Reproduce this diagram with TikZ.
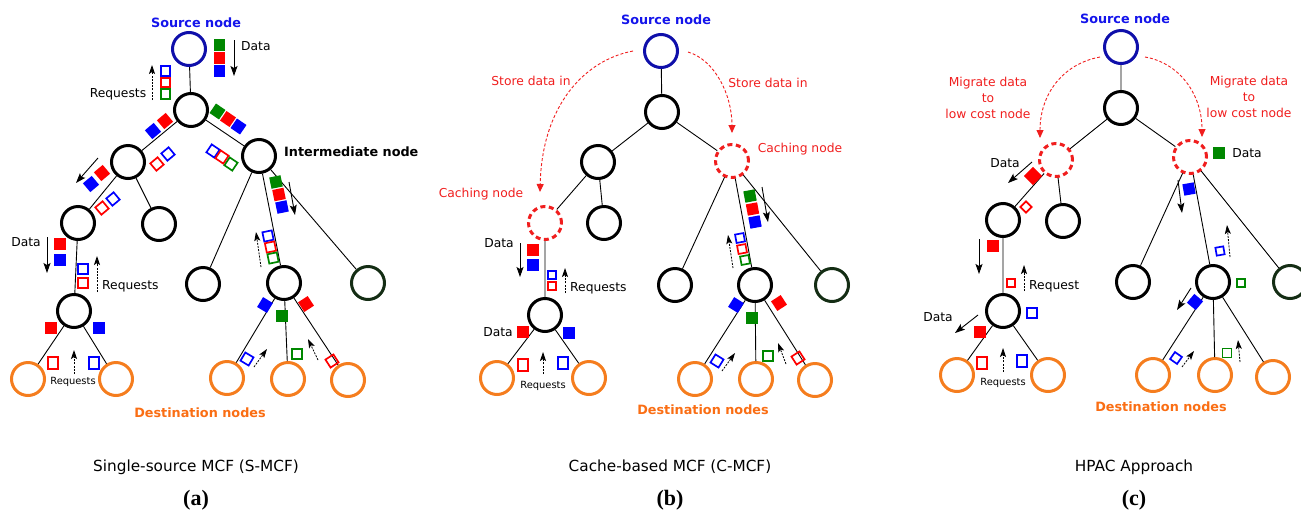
\documentclass[tikz,border=0pt]{standalone}
\usepackage{fontspec}
\setmainfont{DejaVu Sans}
\newfontfamily\capserif{Liberation Serif}
\usetikzlibrary{arrows.meta}
\definecolor{sblue}{RGB}{15,15,170}
\definecolor{tblue}{RGB}{20,20,235}
\definecolor{qgreen}{RGB}{0,135,0}
\definecolor{qred}{RGB}{255,0,0}
\definecolor{qblue}{RGB}{0,0,255}
\definecolor{dorange}{RGB}{245,125,30}
\definecolor{torange}{RGB}{250,110,20}
\definecolor{dkgreen}{RGB}{20,45,20}
\definecolor{cred}{RGB}{240,30,30}
\newcommand\conn[6]{\coordinate (#1s) at (#3,#4); \coordinate (#1e) at (#5,#6); \draw[#2] (#1s) -- (#1e);}
\begin{document}
\begin{tikzpicture}[x=1pt,y=-1pt,
  nd/.style={circle, draw=black, line width=3pt, minimum size=33pt, inner sep=0pt},
  src/.style={nd, draw=sblue},
  dst/.style={nd, draw=dorange},
  dg/.style={nd, draw=dkgreen},
  cache/.style={nd, draw=cred, dash pattern=on 5pt off 3.5pt},
  lnk/.style={line width=0.9pt, black},
  fsq/.style={rectangle, minimum size=11.5pt, inner sep=0pt, fill=#1, draw=none},
  osq/.style={rectangle, minimum size=9.5pt, inner sep=0pt, draw=#1, line width=1.7pt},
  darr/.style={-{Stealth[length=10pt,width=7pt,inset=2pt]}, line width=0.9pt},
  rarr/.style={-{Stealth[length=9pt,width=6pt,inset=2pt]}, line width=0.8pt, dash pattern=on 2pt off 1.2pt},
  carr/.style={-{Triangle[length=8pt,width=7pt]}, cred, line width=0.9pt, dash pattern=on 3pt off 2pt},
  txt/.style={inner sep=0pt, font=\fontsize{12.3}{16}\selectfont},
  rtxt/.style={txt, text=cred, align=center},
  stxt/.style={inner sep=0pt, font=\fontsize{9.9}{12}\selectfont},
  btxt/.style={inner sep=0pt, font=\fontsize{12.8}{15}\selectfont\bfseries},
  captxt/.style={inner sep=0pt, font=\fontsize{15.3}{18}\selectfont},
  labtxt/.style={inner sep=0pt, font=\fontsize{22}{24}\capserif\bfseries}
]
\useasboundingbox (0,0) rectangle (1301,515);

%%%%%%%%%%%%%%%%%%%% Panel (a)
\node[src] (aS) at (189,49) {};
\node[nd] (a1) at (191,110) {};
\node[nd] (a2) at (128,162) {};
\node[nd] (a3) at (259,156) {};
\node[nd] (a4) at (78,223) {};
\node[nd] (a5) at (159,224) {};
\node[nd] (a6) at (74,311) {};
\node[dst] (ad1) at (28,379) {};
\node[dst] (ad2) at (116,379) {};
\node[nd] (a7) at (203,284) {};
\node[nd] (a8) at (284,283) {};
\node[dg] (a9) at (368,283) {};
\node[dst] (ad3) at (227,378) {};
\node[dst] (ad4) at (288,379) {};
\node[dst] (ad5) at (348,380) {};
\draw[lnk] (aS)--(a1) (a1)--(a2) (a1)--(a3) (a2)--(a4) (a2)--(a5) (a4)--(a6)
  (a6)--(ad1) (a6)--(ad2) (a3)--(a7) (a3)--(a8) (a3)--(a9) (a8)--(ad3) (a8)--(ad4) (a8)--(ad5);

\node[fsq=qgreen] (aq1) at (219.5,45) {};
\node[fsq=qred] (aq2) at (219.5,58) {};
\node[fsq=qblue] (aq3) at (219.5,71) {};
\node[osq=qblue] (aq4) at (165.5,71) {};
\node[osq=qred] (aq5) at (165.5,82.5) {};
\node[osq=qgreen] (aq6) at (165.5,94) {};
\node[fsq=qred,rotate=40] (aq7) at (165,121) {};
\node[fsq=qblue,rotate=40] (aq8) at (153,131) {};
\node[fsq=qgreen,rotate=-34] (aq9) at (217.5,111.5) {};
\node[fsq=qred,rotate=-34] (aq10) at (228,119) {};
\node[fsq=qblue,rotate=-34] (aq11) at (238.5,126.5) {};
\node[osq=qred,rotate=40] (aq12) at (157,164) {};
\node[osq=qblue,rotate=40] (aq13) at (168,154) {};
\node[osq=qblue,rotate=-34] (aq14) at (213,151) {};
\node[osq=qred,rotate=-34] (aq15) at (222,157) {};
\node[osq=qgreen,rotate=-34] (aq16) at (231,164) {};
\node[fsq=qred,rotate=40] (aq17) at (102,173) {};
\node[fsq=qblue,rotate=40] (aq18) at (91,184) {};
\node[osq=qred,rotate=40] (aq19) at (102,208) {};
\node[osq=qblue,rotate=40] (aq20) at (113,199) {};
\node[fsq=qgreen,rotate=11.6] (aq21) at (276,182) {};
\node[fsq=qred,rotate=11.6] (aq22) at (279,194.5) {};
\node[fsq=qblue,rotate=11.6] (aq23) at (282,207) {};
\node[osq=qblue,rotate=11.6] (aq24) at (268,236) {};
\node[osq=qred,rotate=11.6] (aq25) at (270.5,247) {};
\node[osq=qgreen,rotate=11.6] (aq26) at (273,258) {};
\node[fsq=qred] (aq27) at (60,244) {};
\node[fsq=qblue] (aq28) at (60,260) {};
\node[osq=qblue] (aq29) at (83,269) {};
\node[osq=qred] (aq30) at (83,283) {};
\node[fsq=qred] (aq31) at (51,328) {};
\node[fsq=qblue] (aq32) at (99,328) {};
\node[osq=qred,minimum height=11.5pt] (aq33) at (53,363) {};
\node[osq=qblue,minimum height=11.5pt] (aq34) at (94,363) {};
\node[fsq=qblue,rotate=-31] (aq35) at (265,305) {};
\node[fsq=qgreen] (aq36) at (282,316) {};
\node[fsq=qred,rotate=33] (aq37) at (306,304) {};
\node[osq=qblue,rotate=-31] (aq38) at (247,359) {};
\node[osq=qgreen] (aq39) at (297,354) {};
\node[osq=qred,rotate=33] (aq40) at (332,361) {};

\conn{aA1}{darr}{234}{40}{234}{76}
\conn{aA2}{rarr}{152}{100}{152}{65}
\conn{aA3}{darr}{98}{158}{76}{183}
\conn{aA4}{darr}{289}{182}{295}{215}
\conn{aA5}{rarr}{261}{267}{256}{232}
\conn{aA6}{darr}{47}{237}{47}{273}
\conn{aA7}{rarr}{97}{292}{97}{256}
\conn{aA8}{rarr}{74}{374}{74}{350}
\conn{aA9}{rarr}{254}{367}{267}{349}
\conn{aA10}{rarr}{318}{360}{308}{339}

\node[btxt, text=tblue] (aT1) at (196,23) {Source node};
\node[txt, anchor=west] (aT2) at (241,46) {Data};
\node[txt] (aT3) at (118,94) {Requests};
\node[btxt, anchor=west] (aT4) at (284,152) {Intermediate node};
\node[txt] (aT5) at (26,242) {Data};
\node[txt, anchor=west] (aT6) at (102,286) {Requests};
\node[stxt] (aT7) at (73,382) {Requests};
\node[btxt, text=torange] (aT8) at (200,413) {Destination nodes};

%%%%%%%%%%%%%%%%%%%% Panel (b)
\node[src] (bS) at (661,51) {};
\node[nd] (b1) at (662,112) {};
\node[nd] (b2) at (598,162) {};
\node[cache] (b3) at (732,161) {};
\node[cache] (b4) at (545,223) {};
\node[nd] (b5) at (604,223) {};
\node[nd] (b6) at (545,315) {};
\node[dst] (bd1) at (497,378) {};
\node[dst] (bd2) at (589,378) {};
\node[nd] (b7) at (675,285) {};
\node[nd] (b8) at (755,285) {};
\node[dg] (b9) at (832,285) {};
\node[dst] (bd3) at (695,379) {};
\node[dst] (bd4) at (756,379) {};
\node[dst] (bd5) at (815,380) {};
\draw[lnk] (bS)--(b1) (b1)--(b2) (b1)--(b3) (b2)--(b4) (b2)--(b5) (b4)--(b6)
  (b6)--(bd1) (b6)--(bd2) (b3)--(b7) (b3)--(b8) (b3)--(b9) (b8)--(bd3) (b8)--(bd4) (b8)--(bd5);

\node[fsq=qgreen,rotate=10.5] (bq1) at (750,196) {};
\node[fsq=qred,rotate=10.5] (bq2) at (752.5,209) {};
\node[fsq=qblue,rotate=10.5] (bq3) at (755,222) {};
\node[osq=qblue,rotate=10.5,minimum size=8.5pt] (bq4) at (740,238) {};
\node[osq=qred,rotate=10.5,minimum size=8.5pt] (bq5) at (742,249) {};
\node[osq=qgreen,rotate=10.5,minimum size=8.5pt] (bq6) at (745,260) {};
\node[fsq=qred] (bq7) at (533,250) {};
\node[fsq=qblue] (bq8) at (533,265) {};
\node[osq=qblue,minimum size=8.5pt] (bq9) at (552,275) {};
\node[osq=qred,minimum size=8.5pt] (bq10) at (552,286) {};
\node[fsq=qred] (bq11) at (523,332) {};
\node[fsq=qblue] (bq12) at (569,333) {};
\node[osq=qred,minimum height=11.5pt] (bq13) at (523,365) {};
\node[osq=qblue,minimum height=11.5pt] (bq14) at (563,363) {};
\node[fsq=qblue,rotate=-32] (bq15) at (736,305) {};
\node[fsq=qgreen] (bq16) at (752,318) {};
\node[fsq=qred,rotate=33] (bq17) at (779,303) {};
\node[osq=qblue,rotate=-32] (bq18) at (717,361) {};
\node[osq=qgreen] (bq19) at (768,356) {};
\node[osq=qred,rotate=33] (bq20) at (798,358) {};

\conn{bA1}{darr}{762}{187}{768}{222}
\conn{bA2}{rarr}{733}{268}{728}{235}
\conn{bA3}{darr}{520}{243}{520}{277}
\conn{bA4}{rarr}{565}{293}{565}{268}
\conn{bA5}{rarr}{543}{374}{543}{352}
\conn{bA6}{rarr}{722}{371}{735}{353}
\conn{bA7}{rarr}{786}{364}{778}{343}
\coordinate (bC1s) at (633,51); \coordinate (bC1e) at (540,192);
\draw[carr] (bC1s) .. controls (585,60) and (542,105) .. (bC1e);
\coordinate (bC2s) at (688,52); \coordinate (bC2e) at (732,133);
\draw[carr] (bC2s) .. controls (715,60) and (732,95) .. (bC2e);

\node[btxt, text=tblue] (bT1) at (666,20) {Source node};
\node[rtxt] (bT2) at (531,81) {Store data in};
\node[rtxt] (bT3) at (768,83) {Store data in};
\node[rtxt] (bT4) at (800,149) {Caching node};
\node[rtxt] (bT5) at (481,194) {Caching node};
\node[txt] (bT6) at (499,243) {Data};
\node[txt, anchor=west] (bT7) at (570,288) {Requests};
\node[txt] (bT8) at (498,332) {Data};
\node[stxt] (bT9) at (543,386) {Requests};
\node[btxt, text=torange] (bT10) at (703,410) {Destination nodes};

%%%%%%%%%%%%%%%%%%%% Panel (c)
\node[src] (cS) at (1121,47) {};
\node[nd] (c1) at (1121,108) {};
\node[cache] (c2) at (1056,160) {};
\node[cache] (c3) at (1190,157) {};
\node[nd] (c4) at (1003,220) {};
\node[nd] (c5) at (1063,221) {};
\node[nd] (c6) at (1003,311) {};
\node[dst] (cd1) at (957,375) {};
\node[dst] (cd2) at (1048,375) {};
\node[nd] (c7) at (1133,282) {};
\node[nd] (c8) at (1213,282) {};
\node[dg] (c9) at (1290,282) {};
\node[dst] (cd3) at (1153,375) {};
\node[dst] (cd4) at (1215,375) {};
\node[dst] (cd5) at (1273,377) {};
\draw[lnk] (cS)--(c1) (c1)--(c2) (c1)--(c3) (c2)--(c4) (c2)--(c5) (c4)--(c6)
  (c6)--(cd1) (c6)--(cd2) (c3)--(c7) (c3)--(c8) (c3)--(c9) (c8)--(cd3) (c8)--(cd4) (c8)--(cd5);

\node[fsq=qred,rotate=45,minimum size=13pt] (cq1) at (1033,176) {};
\node[osq=qred,rotate=45,minimum size=8pt] (cq2) at (1026,207) {};
\node[fsq=qred] (cq3) at (993,246) {};
\node[osq=qred,minimum size=8pt] (cq4) at (1011,283) {};
\node[fsq=qred] (cq5) at (980,332) {};
\node[osq=qblue,minimum size=10.5pt] (cq6) at (1032,313) {};
\node[osq=qred,minimum height=11.5pt] (cq7) at (982,363) {};
\node[osq=qblue,minimum height=11.5pt] (cq8) at (1022,361) {};
\node[fsq=qgreen] (cq9) at (1219,153) {};
\node[fsq=qblue,rotate=10] (cq10) at (1189,189) {};
\node[osq=qblue,rotate=10,minimum size=8pt] (cq11) at (1220,251) {};
\node[osq=qgreen,minimum size=8.5pt] (cq12) at (1241,283) {};
\node[fsq=qblue,rotate=50] (cq13) at (1195,302) {};
\node[osq=qblue,rotate=55,minimum size=8.5pt] (cq14) at (1176,358) {};
\node[osq=qgreen,minimum size=9pt] (cq15) at (1227,353) {};

\conn{cA1}{darr}{1032}{162}{1008}{183}
\conn{cA2}{darr}{979}{239}{979}{274}
\conn{cA3}{rarr}{1024}{291}{1024}{265}
\conn{cA4}{darr}{978}{315}{955}{333}
\conn{cA5}{rarr}{1003}{372}{1003}{348}
\conn{cA6}{darr}{1178}{180}{1182}{213}
\conn{cA7}{rarr}{1230}{257}{1227}{225}
\conn{cA8}{darr}{1191}{288}{1177}{310}
\conn{cA9}{rarr}{1182}{367}{1194}{351}
\conn{cA10}{rarr}{1240}{362}{1238}{340}
\coordinate (cC1s) at (1100,57); \coordinate (cC1e) at (1040,138);
\draw[carr] (cC1s) .. controls (1062,64) and (1040,95) .. (cC1e);
\coordinate (cC2s) at (1145,57); \coordinate (cC2e) at (1202,137);
\draw[carr] (cC2s) .. controls (1180,63) and (1202,95) .. (cC2e);

\node[btxt, text=tblue] (cT1) at (1125,19) {Source node};
\node[rtxt] (cT2) at (988,98) {Migrate data\\to\\low cost node};
\node[rtxt] (cT3) at (1249,97) {Migrate data\\to\\low cost node};
\node[txt] (cT4) at (1005,163) {Data};
\node[txt] (cT5) at (1247,153) {Data};
\node[txt, anchor=west] (cT6) at (1029,286) {Request};
\node[txt] (cT7) at (938,317) {Data};
\node[stxt] (cT8) at (1003,383) {Requests};
\node[btxt, text=torange] (cT9) at (1161,407) {Destination nodes};

%%%%%%%%%%%%%%%%%%%% captions
\node[captxt] (capA) at (196,467) {Single-source MCF (S-MCF)};
\node[captxt] (capB) at (670,467) {Cache-based MCF (C-MCF)};
\node[captxt] (capC) at (1134,467) {HPAC Approach};
\node[labtxt] (labA) at (196,500) {(a)};
\node[labtxt] (labB) at (670,500) {(b)};
\node[labtxt] (labC) at (1134,500) {(c)};
\end{tikzpicture}
\end{document}
